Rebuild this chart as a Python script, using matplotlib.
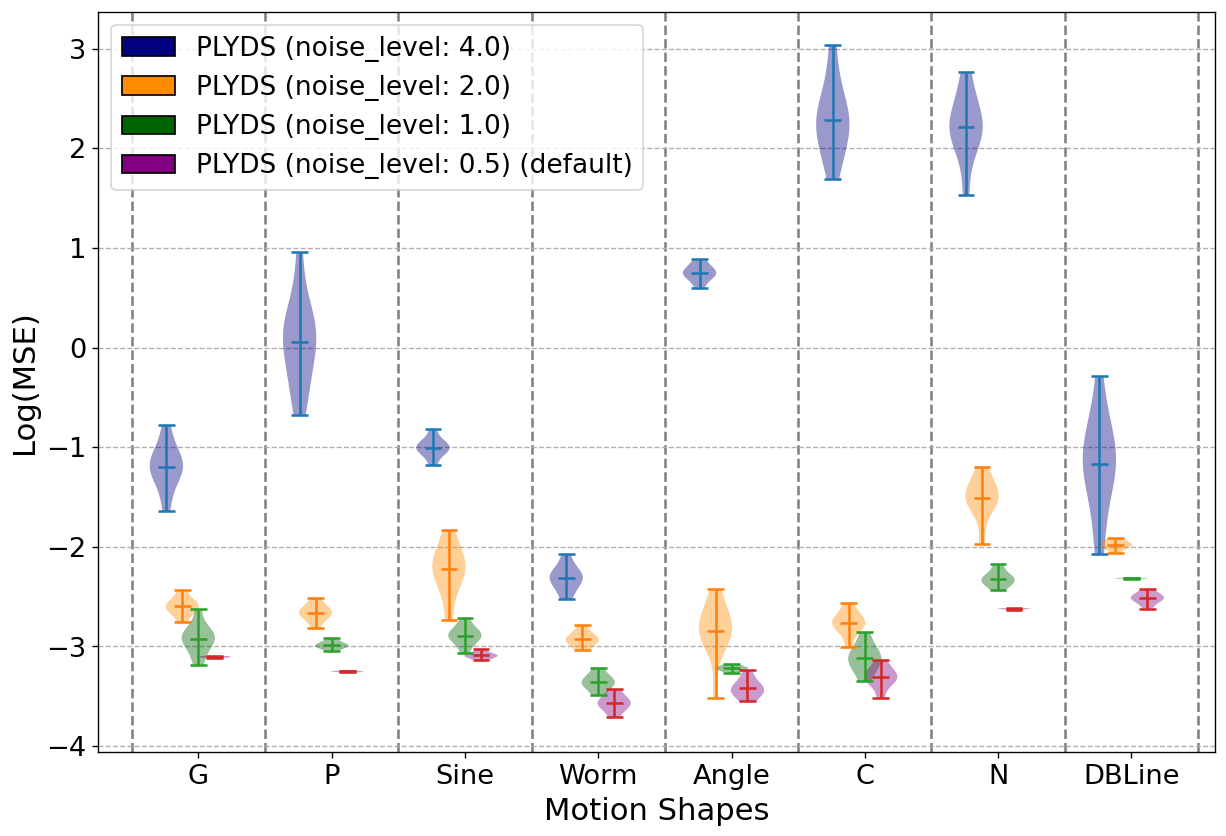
import matplotlib.pyplot as plt
from matplotlib.patches import Patch

shapes = ['G', 'P', 'Sine', 'Worm', 'Angle', 'C', 'N', 'DBLine']
labels = ['PLYDS (noise_level: 4.0)', 'PLYDS (noise_level: 2.0)',
          'PLYDS (noise_level: 1.0)', 'PLYDS (noise_level: 0.5) (default)']

# log(MSE) samples per motion shape
noise_4_0 = [
    [-0.78, -0.98, -1.08, -1.14, -1.18, -1.20, -1.24, -1.30, -1.42, -1.64],
    [0.96, 0.55, 0.35, 0.25, 0.2, 0.15, 0.1, 0.0, -0.1, -0.2, -0.35, -0.5, -0.675],
    [-0.82, -0.93, -0.97, -0.99, -1.0, -1.02, -1.04, -1.08, -1.18],
    [-2.075, -2.2, -2.26, -2.29, -2.31, -2.33, -2.37, -2.44, -2.525],
    [0.89, 0.82, 0.78, 0.76, 0.74, 0.72, 0.69, 0.60],
    [3.04, 2.7, 2.5, 2.4, 2.32, 2.27, 2.2, 2.12, 2.02, 1.9, 1.695],
    [2.765, 2.55, 2.4, 2.3, 2.24, 2.2, 2.15, 2.08, 1.95, 1.535],
    [-0.29, -0.7, -0.8, -0.95, -1.05, -1.12, -1.18, -1.25, -1.35, -1.5, -1.8, -2.075],
]
noise_2_0 = [
    [-2.435, -2.53, -2.57, -2.59, -2.61, -2.63, -2.66, -2.76],
    [-2.515, -2.60, -2.63, -2.65, -2.67, -2.69, -2.72, -2.816],
    [-1.83, -1.98, -2.08, -2.15, -2.2, -2.22, -2.26, -2.35, -2.47, -2.74],
    [-2.787, -2.88, -2.91, -2.93, -2.95, -2.97, -3.037],
    [-2.425, -2.58, -2.68, -2.78, -2.82, -2.85, -2.88, -2.90, -2.97, -3.52],
    [-2.565, -2.68, -2.73, -2.76, -2.78, -2.79, -2.83, -3.005],
    [-1.20, -1.32, -1.42, -1.47, -1.50, -1.53, -1.56, -1.62, -1.975],
    [-1.91, -1.95, -1.97, -1.98, -1.99, -2.01, -2.065],
]
noise_1_0 = [
    [-2.625, -2.85, -2.86, -2.89, -2.91, -2.94, -2.98, -3.08, -3.185],
    [-2.92, -2.96, -2.98, -2.99, -3.0, -3.01, -3.045],
    [-2.72, -2.82, -2.86, -2.88, -2.90, -2.92, -2.96, -3.07],
    [-3.215, -3.30, -3.34, -3.36, -3.38, -3.41, -3.49],
    [-3.175, -3.20, -3.215, -3.22, -3.225, -3.24, -3.27],
    [-2.855, -2.98, -3.05, -3.09, -3.12, -3.15, -3.19, -3.25, -3.35],
    [-2.175, -2.27, -2.31, -2.33, -2.35, -2.37, -2.435],
    [-2.31, -2.315, -2.32, -2.315, -2.32],
]
noise_0_5 = [
    [-3.095, -3.10, -3.105, -3.11, -3.115],
    [-3.245, -3.25, -3.255, -3.25, -3.26],
    [-3.025, -3.07, -3.085, -3.09, -3.10, -3.11, -3.14],
    [-3.43, -3.51, -3.55, -3.57, -3.59, -3.62, -3.71],
    [-3.24, -3.34, -3.39, -3.42, -3.44, -3.46, -3.50, -3.55],
    [-3.14, -3.22, -3.27, -3.30, -3.32, -3.34, -3.37, -3.52],
    [-2.615, -2.62, -2.625, -2.62, -2.63],
    [-2.425, -2.48, -2.50, -2.51, -2.53, -2.55, -2.62],
]

series = [noise_4_0, noise_2_0, noise_1_0, noise_0_5]
body_colors = ['navy', 'darkorange', 'darkgreen', 'purple']
line_colors = ['C0', 'C1', 'C2', 'C3']
offsets = [-0.24, -0.12, 0.0, 0.12]

fig, ax = plt.subplots(figsize=(10, 6.82), dpi=122.6)
fig.subplots_adjust(left=0.08, right=0.991, top=0.9856, bottom=0.1005)

x = list(range(len(shapes)))
for data, off, fc, lc in zip(series, offsets, body_colors, line_colors):
    parts = ax.violinplot(data, positions=[i + off for i in x], widths=0.25,
                          showmeans=True)
    for body in parts['bodies']:
        body.set_facecolor(fc)
        body.set_edgecolor('none')
        body.set_alpha(0.4)
    for key in ['cbars', 'cmins', 'cmaxes', 'cmeans']:
        parts[key].set_color(lc)

for b in range(-1, len(shapes)):
    ax.axvline(b + 0.5, color='gray', linestyle='--', linewidth=1.5, zorder=0)

ax.grid(axis='y', linestyle='--')
ax.set_axisbelow(True)
ax.set_xticks(x)
ax.set_xticklabels(shapes)
ax.tick_params(labelsize=16)
ax.set_xlim(-0.752, 7.627)
ax.set_ylim(-4.06, 3.37)
ax.set_xlabel('Motion Shapes', fontsize=18)
ax.set_ylabel('Log(MSE)', fontsize=18)

handles = [Patch(facecolor=c, edgecolor='black') for c in body_colors]
ax.legend(handles, labels, loc='upper left', fontsize=15.5)

fig.savefig('out.png')
